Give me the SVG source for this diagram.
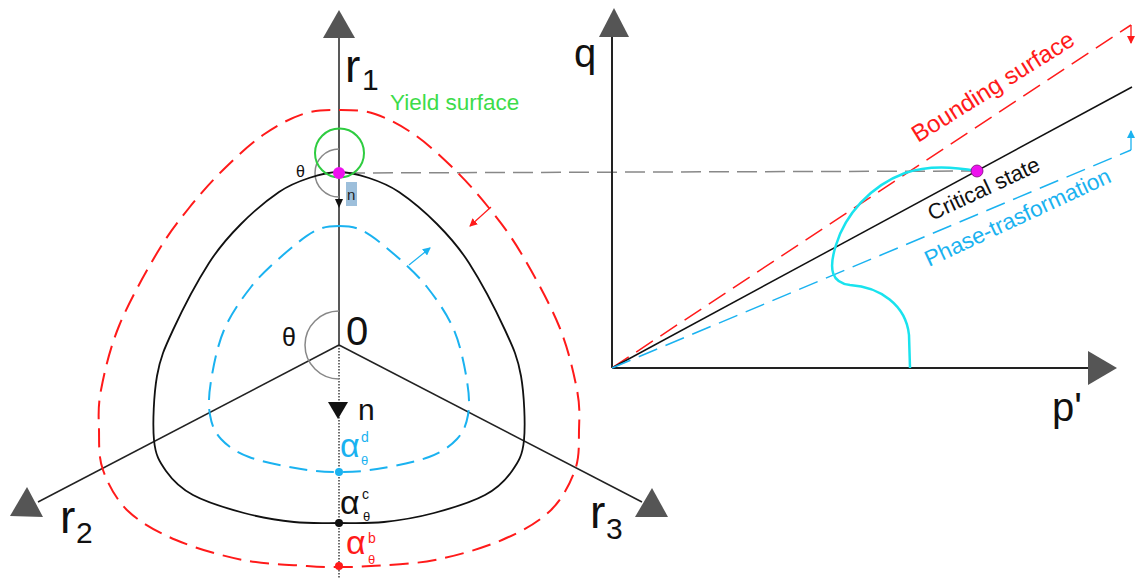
<svg xmlns="http://www.w3.org/2000/svg" width="1137" height="579" viewBox="0 0 1137 579">
<style>
text{font-family:"Liberation Sans",Arial,sans-serif}
.ax{stroke:#222;stroke-width:1.5;fill:none}
.tri{fill:#555}
.red{stroke:#ff1a1a;stroke-width:2;fill:none;stroke-dasharray:19 9}
.blu{stroke:#1ab2f0;stroke-width:2;fill:none;stroke-dasharray:18 9}
.blk{stroke:#111;stroke-width:1.8;fill:none}
.gray{stroke:#888;stroke-width:1.5;fill:none}
</style>
<defs>
<marker id="mr" markerWidth="8" markerHeight="8" refX="7" refY="4" orient="auto" markerUnits="userSpaceOnUse"><path d="M0,0 L8,4 L0,8 Z" fill="#ff1a1a"/></marker>
<marker id="mb" markerWidth="8" markerHeight="8" refX="7" refY="4" orient="auto" markerUnits="userSpaceOnUse"><path d="M0,0 L8,4 L0,8 Z" fill="#1ab2f0"/></marker>
</defs>
<rect width="1137" height="579" fill="#fff"/>

<g id="connectors">
<line class="ax" x1="339" y1="345" x2="339" y2="36"/>
<line class="ax" x1="339" y1="345" x2="38" y2="502"/>
<line class="ax" x1="339" y1="345" x2="642" y2="502"/>
<line x1="339" y1="345" x2="339" y2="579" stroke="#222" stroke-width="1.3" stroke-dasharray="1.5 1.5"/>
<line x1="345" y1="173" x2="977" y2="171" stroke="#888" stroke-width="1.5" stroke-dasharray="20 8"/>
<line x1="612" y1="368" x2="612" y2="36" stroke="#222" stroke-width="2"/>
<line x1="612" y1="368" x2="1090" y2="368" stroke="#222" stroke-width="2"/>
<line x1="612" y1="368" x2="1131" y2="25" stroke="#ff1a1a" stroke-width="1.5" stroke-dasharray="20 9"/>
<line x1="612" y1="368" x2="1132" y2="87" stroke="#111" stroke-width="1.5"/>
<line x1="612" y1="368" x2="1131" y2="150" stroke="#1ab2f0" stroke-width="1.5" stroke-dasharray="20 9"/>
<line x1="1131" y1="25" x2="1131" y2="43" stroke="#ff1a1a" stroke-width="1.3" marker-end="url(#mr)"/>
<line x1="1131" y1="150" x2="1131" y2="131" stroke="#1ab2f0" stroke-width="1.3" marker-end="url(#mb)"/>
<line x1="491" y1="207" x2="470" y2="226" stroke="#ff1a1a" stroke-width="1.2" marker-end="url(#mr)"/>
<line x1="409" y1="265" x2="430" y2="248" stroke="#1ab2f0" stroke-width="1.2" marker-end="url(#mb)"/>
<path class="gray" d="M339,149 A24,24 0 0 0 339,197"/>
<path class="gray" d="M339,311 A34,34 0 0 0 339,379"/>
</g>

<g id="arrowheads">
<polygon class="tri" points="339,10 323,38 355,38"/>
<polygon class="tri" points="27,487 10,516 43,517"/>
<polygon class="tri" points="652,488 635,517 668,517"/>
<polygon class="tri" points="614,8 599,37 629,37"/>
<polygon class="tri" points="1117,368 1088,351 1088,385"/>
<polygon points="328,402 348,402 338,419" fill="#111"/>
<polygon points="335,199 343,199 339,208" fill="#111"/>
</g>

<g id="bounding-surface">
<path class="red" d="M339,110 C351,110 362.3,109.8 375,114 C387.7,118.2 401.7,125.7 415,135 C428.3,144.3 442.7,157.8 455,170 C467.3,182.2 478,194.2 489,208 C500,221.8 509.3,233.3 521,253 C532.7,272.7 549.7,303.2 559,326 C568.3,348.8 573.7,372.7 577,390 C580.3,407.3 579.3,416.7 579,430 C578.7,443.3 579.8,456.5 575,470 C570.2,483.5 562.2,499.3 550,511 C537.8,522.7 521.2,531.8 502,540 C482.8,548.2 456.8,555.7 435,560 C413.2,564.3 387,564.8 371,566 C355,567.2 349.7,567 339,567 C328.3,567 323,567.2 307,566 C291,564.8 264.8,564.3 243,560 C221.2,555.7 195.2,548.2 176,540 C156.8,531.8 140.2,522.7 128,511 C115.8,499.3 107.8,483.5 103,470 C98.2,456.5 99.3,443.3 99,430 C98.7,416.7 97.7,407.3 101,390 C104.3,372.7 109.7,348.8 119,326 C128.3,303.2 145.3,272.7 157,253 C168.7,233.3 178,221.8 189,208 C200,194.2 210.7,182.2 223,170 C235.3,157.8 249.7,144.3 263,135 C276.3,125.7 290.3,118.2 303,114 C315.7,109.8 327,110 339,110 Z"/>
</g>

<g id="critical-surface">
<path class="blk" d="M339,172 C349,172 359,174.7 369,178 C379,181.3 387.7,184.3 399,192 C410.3,199.7 425.3,212.2 437,224 C448.7,235.8 457.7,245.3 469,263 C480.3,280.7 496.3,311.2 505,330 C513.7,348.8 517.8,357.7 521,376 C524.2,394.3 525.5,424.2 524,440 C522.5,455.8 518.5,461.8 512,471 C505.5,480.2 498,488 485,495 C472,502 450.8,508.5 434,513 C417.2,517.5 399.8,520.3 384,522 C368.2,523.7 354,523 339,523 C324,523 309.8,523.7 294,522 C278.2,520.3 260.8,517.5 244,513 C227.2,508.5 206,502 193,495 C180,488 172.5,480.2 166,471 C159.5,461.8 155.5,455.8 154,440 C152.5,424.2 153.8,394.3 157,376 C160.2,357.7 164.3,348.8 173,330 C181.7,311.2 197.7,280.7 209,263 C220.3,245.3 229.3,235.8 241,224 C252.7,212.2 267.7,199.7 279,192 C290.3,184.3 299,181.3 309,178 C319,174.7 329,172 339,172 Z"/>
</g>

<g id="dilatancy-surface">
<path class="blu" d="M339,226 C347,226 353.7,226.2 363,231 C372.3,235.8 384.3,245.7 395,255 C405.7,264.3 417.2,274.5 427,287 C436.8,299.5 447.3,314.3 454,330 C460.7,345.7 464.7,366.8 467,381 C469.3,395.2 469.7,405.3 468,415 C466.3,424.7 463.5,432 457,439 C450.5,446 442.3,452 429,457 C415.7,462 392,466.5 377,469 C362,471.5 351.7,472 339,472 C326.3,472 316,471.5 301,469 C286,466.5 262.3,462 249,457 C235.7,452 227.5,446 221,439 C214.5,432 211.7,424.7 210,415 C208.3,405.3 208.7,395.2 211,381 C213.3,366.8 217.3,345.7 224,330 C230.7,314.3 241.2,299.5 251,287 C260.8,274.5 272.3,264.3 283,255 C293.7,245.7 305.7,235.8 315,231 C324.3,226.2 331,226 339,226 Z"/>
</g>

<g id="yield-surface">
<circle cx="339.5" cy="153" r="24.5" fill="none" stroke="#2ecc40" stroke-width="2"/>
<text x="390" y="110" font-size="22.5" fill="#3ddc4a">Yield surface</text>
</g>

<g id="stress-path">
<path d="M977,171 C950,166 925,166 905,173 C870,186 845,215 836,245 C828,270 832,283 850,285 C880,287 906,305 909,335 L910,368" fill="none" stroke="#19e3ee" stroke-width="2.5"/>
</g>

<g id="points">
<circle cx="339" cy="173" r="6" fill="#ee11ee"/>
<circle cx="977" cy="171" r="6" fill="#ee11ee" stroke="#7a0a7a" stroke-width="0.8"/>
<circle cx="339" cy="472" r="4" fill="#1ab2f0"/>
<circle cx="339" cy="523" r="4" fill="#111"/>
<circle cx="339" cy="566" r="4" fill="#ff1a1a"/>
</g>

<g id="labels">
<text x="345" y="82" font-size="46" fill="#111">r</text>
<text x="362" y="90" font-size="30" fill="#111">1</text>
<text x="60" y="533" font-size="46" fill="#111">r</text>
<text x="76" y="543" font-size="30" fill="#111">2</text>
<text x="590" y="528" font-size="46" fill="#111">r</text>
<text x="606" y="539" font-size="30" fill="#111">3</text>
<text x="346" y="345" font-size="40" fill="#111">0</text>
<text x="282" y="346" font-size="25" fill="#111">θ</text>
<text x="296" y="177" font-size="16" fill="#111">θ</text>
<text x="358" y="420" font-size="30" fill="#111">n</text>
<rect x="346" y="182" width="11" height="24" fill="#9dbfdb"/>
<text x="347" y="200" font-size="15" fill="#222">n</text>
<text x="340" y="457" font-size="34" fill="#1ab2f0">α</text>
<text x="361" y="442" font-size="14" fill="#1ab2f0">d</text>
<text x="361" y="465" font-size="13" fill="#1ab2f0">θ</text>
<text x="340" y="514" font-size="34" fill="#111">α</text>
<text x="362" y="499" font-size="14" fill="#111">c</text>
<text x="363" y="521" font-size="13" fill="#111">θ</text>
<text x="346" y="554" font-size="34" fill="#ff1a1a">α</text>
<text x="368" y="543" font-size="14" fill="#ff1a1a">b</text>
<text x="368" y="564" font-size="13" fill="#ff1a1a">θ</text>
<text x="574" y="67" font-size="40" fill="#111">q</text>
<text x="1052" y="421" font-size="40" fill="#111">p'</text>
<text transform="translate(918,143) rotate(-32)" font-size="24" fill="#ff1a1a">Bounding surface</text>
<text transform="translate(932,221) rotate(-25)" font-size="22" fill="#111">Critical state</text>
<text transform="translate(929,267) rotate(-25)" font-size="22.5" fill="#1ab2f0">Phase-trasformation</text>
</g>
</svg>
